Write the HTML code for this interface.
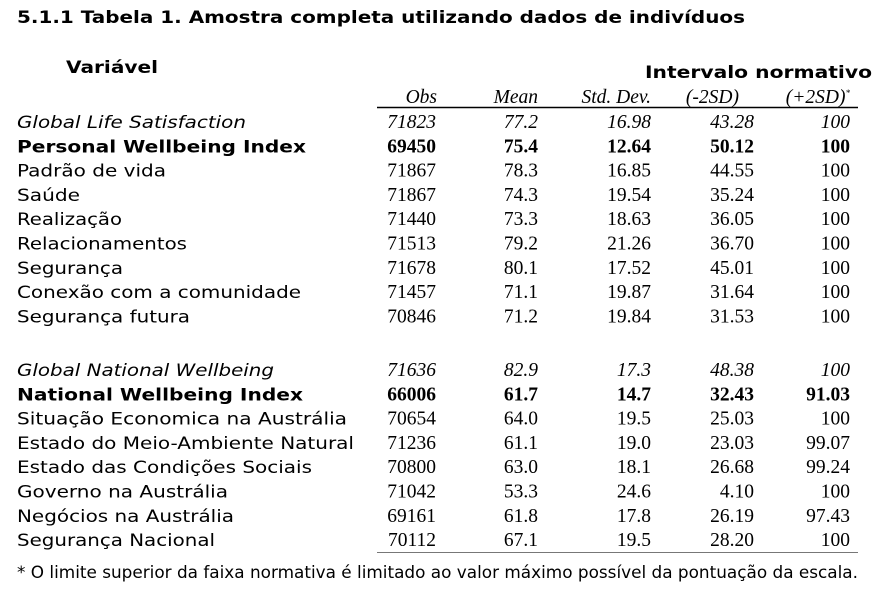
<!DOCTYPE html>
<html><head><meta charset="utf-8"><style>
html,body{margin:0;padding:0;background:#fff;}
svg{display:block}
.l{font-family:"DejaVu Sans","Liberation Sans",sans-serif;font-size:17px;fill:#000}
.n{font-family:"Liberation Serif",serif;font-size:19.5px;fill:#000;text-anchor:end}
.i{font-style:italic}
.b{font-weight:bold}
</style></head><body>
<svg width="886" height="593" xmlns="http://www.w3.org/2000/svg">
<text x="17" y="23" class="l b" font-size="18" textLength="728" lengthAdjust="spacingAndGlyphs">5.1.1 Tabela 1. Amostra completa utilizando dados de indivíduos</text>
<text x="66" y="73" class="l b" textLength="92" lengthAdjust="spacingAndGlyphs">Variável</text>
<text x="645" y="78" class="l b" textLength="227" lengthAdjust="spacingAndGlyphs">Intervalo normativo</text>
<g class="n i">
<text x="437" y="103">Obs</text><text x="538" y="103">Mean</text><text x="651" y="103">Std. Dev.</text><text x="739" y="103">(-2SD)</text><text x="850" y="103">(+2SD)<tspan font-size="9" dy="-7">*</tspan></text>
</g>
<line x1="377" y1="107.5" x2="858" y2="107.5" stroke="#000" stroke-width="1.5"/>
<line x1="377" y1="552.5" x2="858" y2="552.5" stroke="#777" stroke-width="1"/>
<g>
<text x="17" y="128" class="l i" textLength="229" lengthAdjust="spacingAndGlyphs">Global Life Satisfaction</text>
<text x="17" y="152.3" class="l b" textLength="289" lengthAdjust="spacingAndGlyphs">Personal Wellbeing Index</text>
<text x="17" y="176.6" class="l" textLength="149" lengthAdjust="spacingAndGlyphs">Padrão de vida</text>
<text x="17" y="200.9" class="l" textLength="63" lengthAdjust="spacingAndGlyphs">Saúde</text>
<text x="17" y="225.2" class="l" textLength="105" lengthAdjust="spacingAndGlyphs">Realização</text>
<text x="17" y="249.5" class="l" textLength="170" lengthAdjust="spacingAndGlyphs">Relacionamentos</text>
<text x="17" y="273.8" class="l" textLength="106" lengthAdjust="spacingAndGlyphs">Segurança</text>
<text x="17" y="298.1" class="l" textLength="284" lengthAdjust="spacingAndGlyphs">Conexão com a comunidade</text>
<text x="17" y="322.4" class="l" textLength="173" lengthAdjust="spacingAndGlyphs">Segurança futura</text>
<text x="17" y="376" class="l i" textLength="257" lengthAdjust="spacingAndGlyphs">Global National Wellbeing</text>
<text x="17" y="400.3" class="l b" textLength="286" lengthAdjust="spacingAndGlyphs">National Wellbeing Index</text>
<text x="17" y="424.6" class="l" textLength="330" lengthAdjust="spacingAndGlyphs">Situação Economica na Austrália</text>
<text x="17" y="448.9" class="l" textLength="337" lengthAdjust="spacingAndGlyphs">Estado do Meio-Ambiente Natural</text>
<text x="17" y="473.2" class="l" textLength="295" lengthAdjust="spacingAndGlyphs">Estado das Condições Sociais</text>
<text x="17" y="497.5" class="l" textLength="211" lengthAdjust="spacingAndGlyphs">Governo na Austrália</text>
<text x="17" y="521.8" class="l" textLength="217" lengthAdjust="spacingAndGlyphs">Negócios na Austrália</text>
<text x="17" y="546.1" class="l" textLength="198" lengthAdjust="spacingAndGlyphs">Segurança Nacional</text>
</g>
<g class="n">
<g class="i"><text x="436" y="128">71823</text><text x="538" y="128">77.2</text><text x="651" y="128">16.98</text><text x="754" y="128">43.28</text><text x="850" y="128">100</text></g>
<g class="b"><text x="436" y="152.3">69450</text><text x="538" y="152.3">75.4</text><text x="651" y="152.3">12.64</text><text x="754" y="152.3">50.12</text><text x="850" y="152.3">100</text></g>
<text x="436" y="176.6">71867</text><text x="538" y="176.6">78.3</text><text x="651" y="176.6">16.85</text><text x="754" y="176.6">44.55</text><text x="850" y="176.6">100</text>
<text x="436" y="200.9">71867</text><text x="538" y="200.9">74.3</text><text x="651" y="200.9">19.54</text><text x="754" y="200.9">35.24</text><text x="850" y="200.9">100</text>
<text x="436" y="225.2">71440</text><text x="538" y="225.2">73.3</text><text x="651" y="225.2">18.63</text><text x="754" y="225.2">36.05</text><text x="850" y="225.2">100</text>
<text x="436" y="249.5">71513</text><text x="538" y="249.5">79.2</text><text x="651" y="249.5">21.26</text><text x="754" y="249.5">36.70</text><text x="850" y="249.5">100</text>
<text x="436" y="273.8">71678</text><text x="538" y="273.8">80.1</text><text x="651" y="273.8">17.52</text><text x="754" y="273.8">45.01</text><text x="850" y="273.8">100</text>
<text x="436" y="298.1">71457</text><text x="538" y="298.1">71.1</text><text x="651" y="298.1">19.87</text><text x="754" y="298.1">31.64</text><text x="850" y="298.1">100</text>
<text x="436" y="322.4">70846</text><text x="538" y="322.4">71.2</text><text x="651" y="322.4">19.84</text><text x="754" y="322.4">31.53</text><text x="850" y="322.4">100</text>
<g class="i"><text x="436" y="376">71636</text><text x="538" y="376">82.9</text><text x="651" y="376">17.3</text><text x="754" y="376">48.38</text><text x="850" y="376">100</text></g>
<g class="b"><text x="436" y="400.3">66006</text><text x="538" y="400.3">61.7</text><text x="651" y="400.3">14.7</text><text x="754" y="400.3">32.43</text><text x="850" y="400.3">91.03</text></g>
<text x="436" y="424.6">70654</text><text x="538" y="424.6">64.0</text><text x="651" y="424.6">19.5</text><text x="754" y="424.6">25.03</text><text x="850" y="424.6">100</text>
<text x="436" y="448.9">71236</text><text x="538" y="448.9">61.1</text><text x="651" y="448.9">19.0</text><text x="754" y="448.9">23.03</text><text x="850" y="448.9">99.07</text>
<text x="436" y="473.2">70800</text><text x="538" y="473.2">63.0</text><text x="651" y="473.2">18.1</text><text x="754" y="473.2">26.68</text><text x="850" y="473.2">99.24</text>
<text x="436" y="497.5">71042</text><text x="538" y="497.5">53.3</text><text x="651" y="497.5">24.6</text><text x="754" y="497.5">4.10</text><text x="850" y="497.5">100</text>
<text x="436" y="521.8">69161</text><text x="538" y="521.8">61.8</text><text x="651" y="521.8">17.8</text><text x="754" y="521.8">26.19</text><text x="850" y="521.8">97.43</text>
<text x="436" y="546.1">70112</text><text x="538" y="546.1">67.1</text><text x="651" y="546.1">19.5</text><text x="754" y="546.1">28.20</text><text x="850" y="546.1">100</text>
</g>
<text x="17" y="578" class="l" font-size="14.5" textLength="841" lengthAdjust="spacingAndGlyphs">* O limite superior da faixa normativa é limitado ao valor máximo possível da pontuação da escala.</text>
</svg>
</body></html>
